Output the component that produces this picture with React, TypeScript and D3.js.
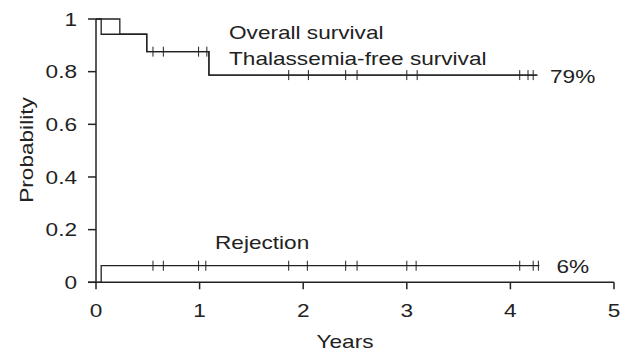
import React from "react";
import * as d3 from "d3";

// Step curves: [time (years), probability]
const overallSteps: [number, number][] = [
  [0, 1], [0.23, 0.942], [0.49, 0.876], [1.09, 0.787], [4.26, 0.787],
];
const tfsSteps: [number, number][] = [
  [0, 1], [0.05, 0.942], [0.49, 0.876], [1.09, 0.787], [4.26, 0.787],
];
const rejectionSteps: [number, number][] = [
  [0, 0], [0.05, 0.063], [4.28, 0.063],
];
const survivalCensors = [0.55, 0.65, 0.99, 1.07, 1.86, 2.05, 2.41, 2.52, 3.0, 3.1, 4.09, 4.17, 4.22];
const rejectionCensors = [0.55, 0.65, 0.99, 1.06, 1.86, 2.04, 2.41, 2.52, 3.0, 3.09, 4.09, 4.22, 4.27];
const xTicks = [0, 1, 2, 3, 4, 5];
const yTicks = [0, 0.2, 0.4, 0.6, 0.8, 1];
const yTickLabels = ["0", "0.2", "0.4", "0.6", "0.8", "1"];

const W = 626, H = 352;
const x = d3.scaleLinear().domain([0, 5]).range([96, 614]);
const y = d3.scaleLinear().domain([0, 1]).range([282.3, 19]);
const line = d3.line<[number, number]>().x(d => x(d[0])).y(d => y(d[1])).curve(d3.curveStepAfter);

const C = "#222";
const FONT = "'Liberation Sans', Arial, sans-serif";
const FS = 19;
const SX = 1.19;

function valueAt(steps: [number, number][], t: number) {
  let v = steps[0][1];
  for (const s of steps) if (s[0] <= t) v = s[1];
  return v;
}

function T({ x: tx, y: ty, anchor = "start", rotate = 0, children }: { x: number; y: number; anchor?: string; rotate?: number; children: React.ReactNode }) {
  return (
    <text
      transform={`translate(${tx},${ty}) rotate(${rotate}) scale(${SX},1)`}
      textAnchor={anchor}
      fontSize={FS}
      fill={C}
    >
      {children}
    </text>
  );
}

export default function App() {
  return (
    <svg width={W} height={H} style={{ position: "absolute", left: 0, top: 0, background: "#fff" }} fontFamily={FONT}>
      {/* axes */}
      <line x1={x(0)} x2={x(0)} y1={y(1)} y2={y(0)} stroke={C} strokeWidth={1.5} />
      <line x1={x(0) - 8} x2={x(5)} y1={y(0)} y2={y(0)} stroke={C} strokeWidth={1.5} />
      {yTicks.map((t, i) => (
        <g key={"y" + i}>
          <line x1={x(0) - 8} x2={x(0)} y1={y(t)} y2={y(t)} stroke={C} strokeWidth={1.5} />
          <T x={x(0) - 19} y={y(t) + 6.8} anchor="end">{yTickLabels[i]}</T>
        </g>
      ))}
      {xTicks.map((t) => (
        <g key={"x" + t}>
          <line x1={x(t)} x2={x(t)} y1={y(0)} y2={y(0) + 7} stroke={C} strokeWidth={1.5} />
          <T x={x(t)} y={317} anchor="middle">{t}</T>
        </g>
      ))}
      <T x={345} y={347.5} anchor="middle">Years</T>
      <T x={33} y={150} anchor="middle" rotate={-90}>Probability</T>

      {/* curves */}
      <path d={line(overallSteps) || ""} fill="none" stroke={C} strokeWidth={1.3} />
      <path d={line(tfsSteps) || ""} fill="none" stroke={C} strokeWidth={1.3} />
      <path d={line(rejectionSteps) || ""} fill="none" stroke={C} strokeWidth={1.3} />

      {survivalCensors.map((t, i) => (
        <line key={"sc" + i} x1={x(t)} x2={x(t)} y1={y(valueAt(tfsSteps, t)) - 5} y2={y(valueAt(tfsSteps, t)) + 5} stroke={C} strokeWidth={1} />
      ))}
      {rejectionCensors.map((t, i) => (
        <line key={"rc" + i} x1={x(t)} x2={x(t)} y1={y(valueAt(rejectionSteps, t)) - 5} y2={y(valueAt(rejectionSteps, t)) + 5} stroke={C} strokeWidth={1} />
      ))}

      {/* labels */}
      <T x={229} y={38.5}>Overall survival</T>
      <T x={229} y={64.5}>Thalassemia-free survival</T>
      <T x={550} y={83}>79%</T>
      <T x={215} y={249}>Rejection</T>
      <T x={556.5} y={273}>6%</T>
    </svg>
  );
}
